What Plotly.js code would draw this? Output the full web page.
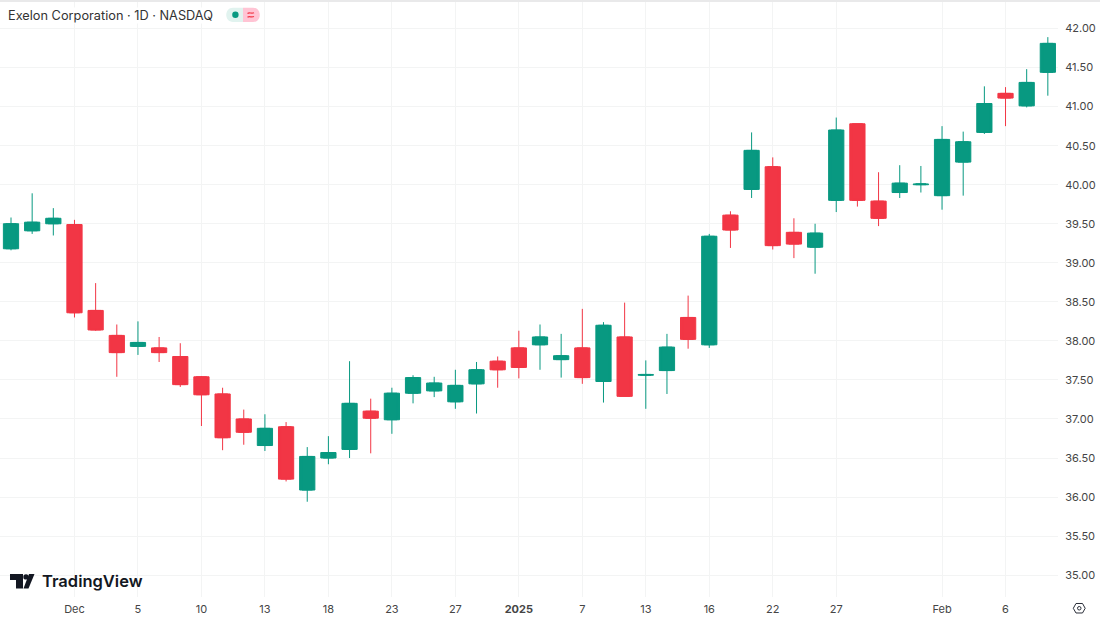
<!DOCTYPE html>
<html><head><meta charset="utf-8">
<script src="https://cdn.plot.ly/plotly-3.0.1.min.js"></script>
<style>html,body{margin:0;padding:0;background:#fff}#chart{width:1100px;height:619px}</style>
</head><body><div id="chart"></div>
<script>
const dates = ["2024-11-26","2024-11-27","2024-11-29","2024-12-02","2024-12-03","2024-12-04","2024-12-05","2024-12-06","2024-12-09","2024-12-10","2024-12-11","2024-12-12","2024-12-13","2024-12-16","2024-12-17","2024-12-18","2024-12-19","2024-12-20","2024-12-23","2024-12-24","2024-12-26","2024-12-27","2024-12-30","2024-12-31","2025-01-02","2025-01-03","2025-01-06","2025-01-07","2025-01-08","2025-01-10","2025-01-13","2025-01-14","2025-01-15","2025-01-16","2025-01-17","2025-01-21","2025-01-22","2025-01-23","2025-01-24","2025-01-27","2025-01-28","2025-01-29","2025-01-30","2025-01-31","2025-02-03","2025-02-04","2025-02-05","2025-02-06","2025-02-07","2025-02-10"];
const opens = [39.18,39.41,39.50,39.49,38.39,38.07,37.93,37.91,37.80,37.54,37.32,37.00,36.66,36.90,36.09,36.50,36.61,37.10,36.99,37.33,37.36,37.22,37.45,37.74,37.91,37.95,37.76,37.91,37.48,38.05,37.56,37.62,38.30,37.95,39.61,39.94,40.23,39.39,39.20,39.80,40.78,39.79,39.90,40.00,39.86,40.29,40.67,41.17,41.01,41.44];
const highs = [39.58,39.89,39.70,39.55,38.74,38.21,38.25,38.05,37.97,37.55,37.40,37.12,37.06,36.96,36.64,36.78,37.74,37.26,37.40,37.56,37.54,37.63,37.73,37.80,38.13,38.21,38.09,38.41,38.24,38.49,37.75,38.09,38.58,39.37,39.66,40.67,40.35,39.57,39.50,40.86,40.78,40.16,40.25,40.24,40.75,40.68,41.26,41.25,41.48,41.89];
const lows = [39.16,39.37,39.35,38.30,38.13,37.54,37.82,37.73,37.41,36.91,36.60,36.67,36.59,36.20,35.94,36.42,36.50,36.56,36.81,37.20,37.28,37.13,37.07,37.40,37.52,37.63,37.53,37.45,37.21,37.29,37.13,37.32,37.90,37.91,39.19,39.83,39.17,39.06,38.86,39.65,39.72,39.47,39.83,39.90,39.68,39.86,40.65,40.75,40.99,41.14];
const closes = [39.50,39.52,39.57,38.36,38.14,37.85,37.98,37.85,37.44,37.31,36.76,36.83,36.88,36.23,36.52,36.57,37.20,37.01,37.33,37.53,37.46,37.43,37.63,37.63,37.66,38.05,37.81,37.53,38.20,37.29,37.57,37.92,38.02,39.34,39.42,40.44,39.22,39.24,39.38,40.70,39.80,39.57,40.02,40.01,40.58,40.55,41.04,41.11,41.31,41.81];
const xTickDates = ["2024-12-02","2024-12-05","2024-12-10","2024-12-13","2024-12-18","2024-12-23","2024-12-27","2025-01-02","2025-01-07","2025-01-13","2025-01-16","2025-01-22","2025-01-27","2025-02-03","2025-02-06"];
const xTickLabels = ["Dec","5","10","13","18","23","27","<b>2025</b>","7","13","16","22","27","Feb","6"];
const titleText = "Exelon Corporation · 1D · NASDAQ";
const brandText = "TradingView";

const W=1100,H=619,L=0,R=1058,T=2,B=597;
const fx=x=>(x-L)/(R-L), fy=y=>(B-y)/(B-T);
const pth=(d,fill,line)=>({type:'path',xref:'paper',yref:'paper',path:d.replace(/(-?[\d.]+),(-?[\d.]+)/g,(m,a,b)=>fx(+a).toFixed(5)+','+fy(+b).toFixed(5)),fillcolor:fill,line:line||{width:0},layer:'above'});

const UP='#089981',DOWN='#F23645',GRID='#F3F4F4';
const shapes=[
 {type:'rect',xref:'paper',yref:'paper',x0:0,x1:W/R,y0:fy(2),y1:fy(0),fillcolor:'#E9E9EA',line:{width:0},layer:'above'},
 // status pill
 pth('M233,7.8 L243,7.8 L243,22 L233,22 C224,22 224,7.8 233,7.8 Z','#E1F3EF'),
 pth('M243,7.8 L253,7.8 C262,7.8 262,22 253,22 L243,22 Z','#FFC4D4'),
 {type:'circle',xref:'paper',yref:'paper',x0:fx(232.2),x1:fx(238.6),y0:fy(18),y1:fy(11.6),fillcolor:UP,line:{width:0},layer:'above'},
 pth('M247.5,13.4 C249.5,12 251.5,14 254,12.7 M247.5,17.2 C249.5,15.8 251.5,17.8 254,16.5','rgba(0,0,0,0)',{width:1.2,color:DOWN}),
 // logo
 pth('M10,574 L23,574 L23,588.5 L16,588.5 L16,580 L10,580 Z','#131722'),
 pth('M29,574 L34.5,574 L28.5,588.5 L23.5,588.5 Z','#131722'),
 {type:'circle',xref:'paper',yref:'paper',x0:fx(23.3),x1:fx(28.7),y0:fy(579.6),y1:fy(574.2),fillcolor:'#131722',line:{width:0},layer:'above'},
 // settings hexagon
 pth('M1076,603.5 L1082.5,603.5 L1085.2,608.3 L1082.5,613 L1076,613 L1073.3,608.3 Z','rgba(0,0,0,0)',{width:1,color:'#2A2E39'}),
 {type:'circle',xref:'paper',yref:'paper',x0:fx(1077.5),x1:fx(1081),y0:fy(610),y1:fy(606.5),fillcolor:'rgba(0,0,0,0)',line:{width:1,color:'#2A2E39'},layer:'above'}
];

// The candlestick trace draws the wicks and box outlines; bars widen the bodies to the reference width.
const bodyBase = opens.map((o,i)=>Math.min(o,closes[i]));
const bodySize = opens.map((o,i)=>Math.abs(closes[i]-o));
const bodyColor = opens.map((o,i)=>closes[i]>=o?UP:DOWN);

Plotly.newPlot('chart',[{
  type:'candlestick',x:dates,open:opens,high:highs,low:lows,close:closes,
  whiskerwidth:0,hoverinfo:'skip',
  increasing:{line:{color:UP,width:1},fillcolor:UP},
  decreasing:{line:{color:DOWN,width:1},fillcolor:DOWN}
},{
  type:'bar',x:dates,y:bodySize,base:bodyBase,width:0.72,hoverinfo:'skip',
  marker:{color:bodyColor,line:{color:bodyColor,width:1}}
}],{
  width:W,height:H,margin:{l:L,r:W-R,t:T,b:H-B},
  paper_bgcolor:'#fff',plot_bgcolor:'#fff',showlegend:false,barmode:'overlay',
  xaxis:{type:'category',rangeslider:{visible:false},range:[-0.52,49.48],categoryorder:'array',categoryarray:dates,
    tickmode:'array',tickvals:xTickDates,ticktext:xTickLabels,showgrid:true,gridcolor:GRID,gridwidth:1,zeroline:false,showline:false,
    ticks:'outside',ticklen:2,tickcolor:'rgba(0,0,0,0)',tickfont:{family:'Inter, Roboto, sans-serif',size:11,color:'#454545'},tickangle:0},
  yaxis:{side:'right',range:[34.72,42.34],tick0:35,dtick:0.5,tickformat:'.2f',showgrid:true,gridcolor:GRID,gridwidth:1,zeroline:false,showline:false,
    ticks:'outside',ticklen:4,tickcolor:'rgba(0,0,0,0)',tickfont:{family:'Inter, Roboto, sans-serif',size:11,color:'#454545'}},
  shapes:shapes,
  annotations:[
   {xref:'paper',yref:'paper',x:fx(6.5),y:fy(15),xanchor:'left',yanchor:'middle',text:titleText,showarrow:false,
    font:{family:'Inter, Roboto, sans-serif',size:12.75,color:'#333'},bgcolor:'#fff',borderpad:0},
   {xref:'paper',yref:'paper',x:fx(40),y:fy(580.5),xanchor:'left',yanchor:'middle',text:brandText,showarrow:false,
    font:{family:'Inter, Roboto, sans-serif',size:16.5,weight:600,color:'#131722'}}
  ]
},{displayModeBar:false,staticPlot:true});
</script></body></html>
